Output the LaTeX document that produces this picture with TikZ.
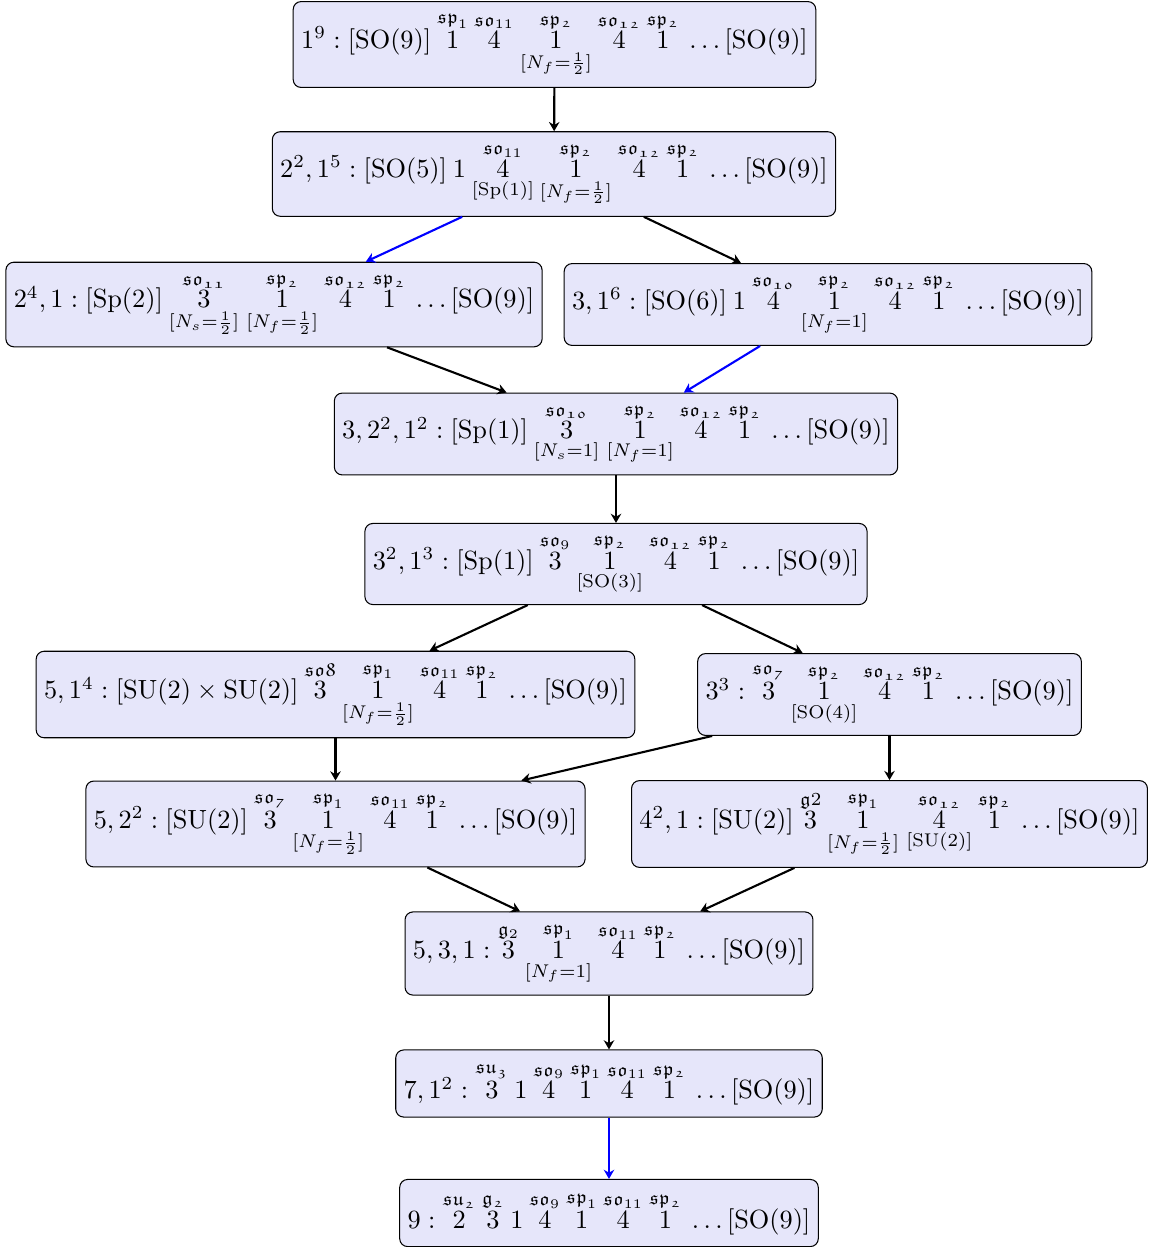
\documentclass[tikz,border=0pt]{standalone}
\usepackage{amsmath,amsthm,amsfonts,amssymb}
\usepackage{tikz}
\usepackage{xcolor}
\usetikzlibrary{arrows.meta}
\usetikzlibrary{positioning, shapes.geometric}

\definecolor{orbitfill}{RGB}{230,230,250}
\newcommand{\SO}[1]{\mathrm{SO}(#1)}
\newcommand{\SU}[1]{\mathrm{SU}(#1)}
\newcommand{\Sp}[1]{\mathrm{Sp}(#1)}
\newcommand{\tailnine}{\:\ldots[\SO{9}]}

\tikzset{
    orbit/.style={draw, rounded corners=3pt, fill=orbitfill, inner xsep=3pt, inner ysep=3.8pt,
        minimum height=25.5pt, line width=0.4pt},
    hasse/.style={-{Stealth[length=3.5pt, width=4pt]}, black, thick},
    hasseblue/.style={hasse, blue}
}

\begin{document}
\begin{tikzpicture}[x=0.38pt, y=-0.38pt]
    \useasboundingbox (0,0) rectangle (1150,1247);
    % nodes of the diagram, one per orbit
    \node[orbit] (o19) at (554.5,44.5) {$1^9 : [\SO{9}]\: \overset{\mathfrak{sp}_1}{1}\: \overset{\mathfrak{so}_{11}}{4}\: \underset{[N_f=\frac12]}{\overset{\mathfrak{sp_2}}{1}}\: \overset{\mathfrak{so_{12}}}{4}\: \overset{\mathfrak{sp_2}}{1}\tailnine$};
    \node[orbit] (o2215) at (554,174) {$2^2,1^5 : [\SO{5}]\: 1\: \underset{[\Sp{1}]}{\overset{\mathfrak{so}_{11}}{4}}\: \underset{[N_f=\frac12]}{\overset{\mathfrak{sp_2}}{1}}\: \overset{\mathfrak{so_{12}}}{4}\: \overset{\mathfrak{sp_2}}{1}\tailnine$};
    \node[orbit] (o241) at (274,304.5) {$2^4,1 : [\Sp{2}]\: \underset{[N_s=\frac12]}{\overset{\mathfrak{so_{11}}}{3}}\; \underset{[N_f=\frac12]}{\overset{\mathfrak{sp_2}}{1}}\: \overset{\mathfrak{so_{12}}}{4}\: \overset{\mathfrak{sp_2}}{1}\tailnine$};
    \node[orbit] (o316) at (828,304.5) {$3,1^6 : [\SO{6}]\: 1\: \overset{\mathfrak{so_{10}}}{4}\: \underset{[N_f=1]}{\overset{\mathfrak{sp_2}}{1}}\: \overset{\mathfrak{so_{12}}}{4}\: \overset{\mathfrak{sp_2}}{1}\tailnine$};
    \node[orbit] (o32212) at (616,434) {$3,2^2,1^2 : [\Sp{1}]\: \underset{[N_s=1]}{\overset{\mathfrak{so_{10}}}{3}}\; \underset{[N_f=1]}{\overset{\mathfrak{sp_2}}{1}}\: \overset{\mathfrak{so_{12}}}{4}\: \overset{\mathfrak{sp_2}}{1}\tailnine$};
    \node[orbit] (o3213) at (616,564) {$3^2,1^3 : [\Sp{1}]\: \overset{\mathfrak{so}_9}{3}\: \underset{[\SO{3}]}{\overset{\mathfrak{sp_2}}{1}}\: \overset{\mathfrak{so_{12}}}{4}\: \overset{\mathfrak{sp_2}}{1}\tailnine$};
    \node[orbit] (o514) at (335.5,694.5) {$5,1^4 : [\SU{2}\times\SU{2}]\: \overset{\mathfrak{so8}}{3}\: \underset{[N_f=\frac12]}{\overset{\mathfrak{sp}_1}{1}}\: \overset{\mathfrak{so}_{11}}{4}\: \overset{\mathfrak{sp_2}}{1}\tailnine$};
    \node[orbit] (o33) at (889.5,694.5) {$3^3 : \overset{\mathfrak{so_7}}{3}\: \underset{[\SO{4}]}{\overset{\mathfrak{sp_2}}{1}}\: \overset{\mathfrak{so_{12}}}{4}\: \overset{\mathfrak{sp_2}}{1}\tailnine$};
    \node[orbit] (o522) at (335.5,824) {$5,2^2 : [\SU{2}]\: \overset{\mathfrak{so_7}}{3}\: \underset{[N_f=\frac12]}{\overset{\mathfrak{sp}_1}{1}}\: \overset{\mathfrak{so}_{11}}{4}\: \overset{\mathfrak{sp_2}}{1}\tailnine$};
    \node[orbit] (o421) at (889.5,824) {$4^2,1 : [\SU{2}]\: \overset{\mathfrak{g}2}{3}\: \underset{[N_f=\frac12]}{\overset{\mathfrak{sp}_1}{1}}\; \underset{[\SU{2}]}{\overset{\mathfrak{so_{12}}}{4}}\: \overset{\mathfrak{sp_2}}{1}\tailnine$};
    \node[orbit] (o531) at (609,953.5) {$5,3,1 : \overset{\mathfrak{g}_2}{3}\: \underset{[N_f=1]}{\overset{\mathfrak{sp}_1}{1}}\: \overset{\mathfrak{so}_{11}}{4}\: \overset{\mathfrak{sp_2}}{1}\tailnine$};
    \node[orbit] (o712) at (609,1083.5) {$7,1^2 : \overset{\mathfrak{su_3}}{3}\: 1\: \overset{\mathfrak{so}_9}{4}\: \overset{\mathfrak{sp}_1}{1}\: \overset{\mathfrak{so}_{11}}{4}\: \overset{\mathfrak{sp_2}}{1}\tailnine$};
    \node[orbit] (o9) at (609,1213) {$9 : \overset{\mathfrak{su_2}}{2}\: \overset{\mathfrak{g_2}}{3}\: 1\: \overset{\mathfrak{so}_9}{4}\: \overset{\mathfrak{sp}_1}{1}\: \overset{\mathfrak{so}_{11}}{4}\: \overset{\mathfrak{sp_2}}{1}\tailnine$};

    % closure ordering
    \draw[hasse] (o19) -- (o2215);
    \draw[hasseblue] (o2215) -- (o241);
    \draw[hasse] (o2215) -- (o316);
    \draw[hasse] (o241) -- (o32212);
    \draw[hasseblue] (o316) -- (o32212);
    \draw[hasse] (o32212) -- (o3213);
    \draw[hasse] (o3213) -- (o514);
    \draw[hasse] (o3213) -- (o33);
    \draw[hasse] (o514) -- (o522);
    \draw[hasse] (o33) -- (o522);
    \draw[hasse] (o33) -- (o421);
    \draw[hasse] (o522) -- (o531);
    \draw[hasse] (o421) -- (o531);
    \draw[hasse] (o531) -- (o712);
    \draw[hasseblue] (o712) -- (o9);
\end{tikzpicture}
\end{document}
